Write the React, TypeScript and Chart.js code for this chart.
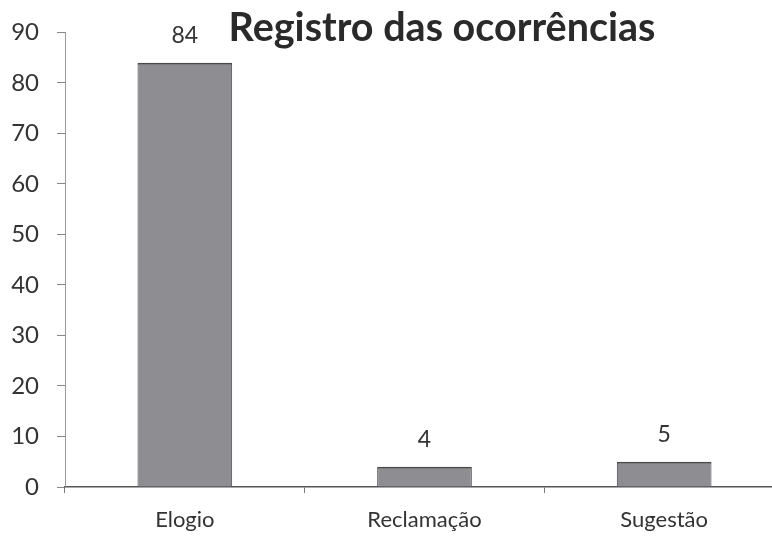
import React, { useEffect, useRef } from "react";
import { Chart, registerables } from "chart.js";

Chart.register(...registerables);

const categories = ["Elogio", "Reclamação", "Sugestão"];
const values = [84, 4, 5];
const yTicks = [0, 10, 20, 30, 40, 50, 60, 70, 80, 90];
const titleText = "Registro das ocorrências";

const FONT = "Lato, 'Open Sans', sans-serif";

export default function App() {
  const ref = useRef<HTMLCanvasElement | null>(null);

  useEffect(() => {
    if (!ref.current) return;
    const labelPlugin = {
      id: "labelsAndTitle",
      afterDatasetsDraw(chart: any) {
        const ctx = chart.ctx;
        const meta = chart.getDatasetMeta(0);
        ctx.save();
        ctx.fillStyle = "#333";
        ctx.font = `23px ${FONT}`;
        ctx.textAlign = "center";
        ctx.textBaseline = "middle";
        meta.data.forEach((bar: any, i: number) => {
          ctx.fillText(String(values[i]), bar.x, bar.y - 27);
        });
        ctx.font = `bold 39.5px ${FONT}`;
        ctx.fillStyle = "#2a2a2a";
        ctx.fillText(titleText, 442, 28);
        ctx.restore();
      },
    };
    const chart = new Chart(ref.current, {
      type: "bar",
      data: {
        labels: categories,
        datasets: [
          {
            data: values,
            backgroundColor: "#8e8e92",
            borderColor: "#4a4a4a",
            borderWidth: { top: 2, left: 1, right: 1, bottom: 0 } as any,
            categoryPercentage: 1,
            barPercentage: 0.395,
          },
        ],
      },
      options: {
        animation: false,
        responsive: false,
        maintainAspectRatio: false,
        layout: { padding: { top: 24, right: 16, left: 0, bottom: 0 } },
        plugins: { legend: { display: false }, tooltip: { enabled: false }, title: { display: false } },
        scales: {
          x: {
            grid: { display: true, drawOnChartArea: false, tickLength: 6, color: "#777", offset: true },
            border: { display: true, color: "#555", width: 1.5 },
            ticks: { color: "#333", font: { family: FONT, size: 22 }, padding: 14 },
            afterFit: (s: any) => { s.height = 60; },
          },
          y: {
            min: 0,
            max: 90,
            afterBuildTicks: (s: any) => { s.ticks = yTicks.map((v) => ({ value: v })); },
            grid: { display: true, drawOnChartArea: false, tickLength: 8, color: "#888" },
            border: { display: true, color: "#999", width: 1 },
            ticks: { color: "#333", font: { family: FONT, size: 24 }, padding: 18 },
            afterFit: (s: any) => { s.width = 65; },
          },
        },
      },
      plugins: [labelPlugin],
    });
    return () => chart.destroy();
  }, []);

  return (
    <div style={{ position: "fixed", left: 0, top: 0, width: 772, height: 547, overflow: "hidden", background: "#fff" }}>
      <canvas ref={ref} width={800} height={547} style={{ display: "block" }} />
    </div>
  );
}
